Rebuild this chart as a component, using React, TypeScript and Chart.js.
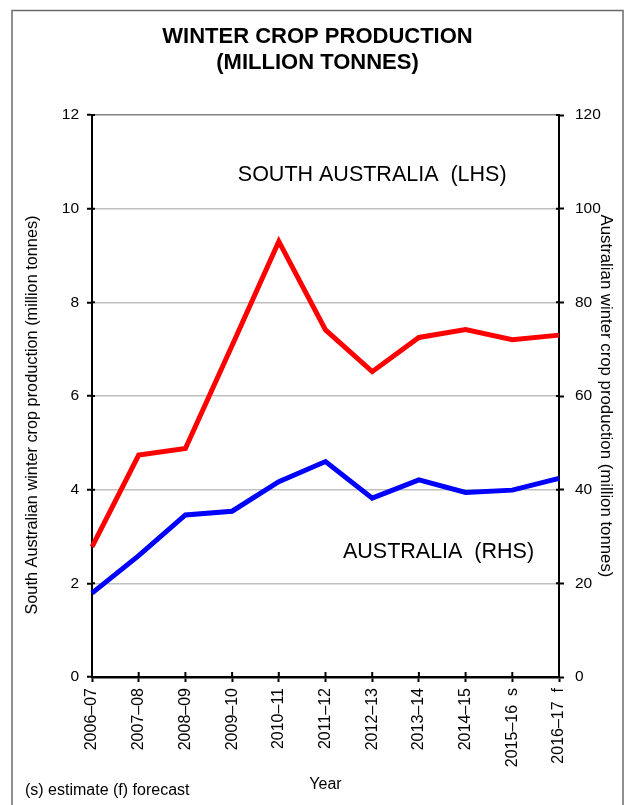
import React, { useEffect, useRef } from "react";
import { Chart, registerables } from "chart.js";

Chart.register(...registerables);

const categories = [
  "2006–07",
  "2007–08",
  "2008–09",
  "2009–10",
  "2010–11",
  "2011–12",
  "2012–13",
  "2013–14",
  "2014–15",
  "2015–16  s",
  "2016–17  f",
];
const southAustralia = [2.78, 4.74, 4.88, 7.08, 9.3, 7.41, 6.52, 7.25, 7.42, 7.2, 7.3];
const australia = [17.9, 25.9, 34.6, 35.4, 41.7, 46.0, 38.2, 42.1, 39.4, 39.9, 42.4];
const leftTicks = [0, 2, 4, 6, 8, 10, 12];
const rightTicks = [0, 20, 40, 60, 80, 100, 120];
const titleLines = ["WINTER CROP PRODUCTION", "(MILLION TONNES)"];
const leftTitle = "South Australian winter crop production (million tonnes)";
const rightTitle = "Australian winter crop production (million tonnes)";
const xTitle = "Year";
const footnote = "(s) estimate (f) forecast";
const saLabel = "SOUTH AUSTRALIA  (LHS)";
const ausLabel = "AUSTRALIA  (RHS)";

const FONT = "'Liberation Sans', Arial, sans-serif";

const extrasPlugin = {
  id: "extras",
  beforeDraw(chart: any) {
    const ctx = chart.ctx;
    ctx.save();
    ctx.fillStyle = "#ffffff";
    ctx.fillRect(0, 0, chart.width, chart.height);
    ctx.strokeStyle = "#6b6b6b";
    ctx.lineWidth = 1.5;
    ctx.strokeRect(12, 10.5, 611, chart.height + 20);
    ctx.restore();
  },
  beforeDatasetsDraw(chart: any) {
    const ctx = chart.ctx;
    const { x, y, y1 } = chart.scales;
    const area = chart.chartArea;
    ctx.save();
    ctx.strokeStyle = "#000";
    ctx.lineWidth = 2;
    ctx.beginPath();
    x.ticks.forEach((_t: any, i: number) => {
      const px = x.getPixelForTick(i);
      ctx.moveTo(px, area.bottom);
      ctx.lineTo(px, area.bottom - 5);
    });
    y.ticks.forEach((_t: any, i: number) => {
      const py = y.getPixelForTick(i);
      ctx.moveTo(area.left, py);
      ctx.lineTo(area.left + 3, py);
    });
    y1.ticks.forEach((_t: any, i: number) => {
      const py = y1.getPixelForTick(i);
      ctx.moveTo(area.right, py);
      ctx.lineTo(area.right - 3, py);
    });
    ctx.stroke();
    ctx.restore();
  },
  afterDraw(chart: any) {
    const ctx = chart.ctx;
    const { x, y, y1 } = chart.scales;
    const area = chart.chartArea;
    ctx.save();
    ctx.fillStyle = "#000";
    ctx.textAlign = "center";
    ctx.textBaseline = "middle";
    ctx.font = `21.5px ${FONT}`;
    ctx.fillText(saLabel, x.getPixelForValue(6), y.getPixelForValue(10.72));
    ctx.fillText(ausLabel, x.getPixelForValue(7.42), y1.getPixelForValue(26.6));
    // left axis title (rotated, reads bottom to top)
    ctx.save();
    ctx.font = `16.3px ${FONT}`;
    ctx.translate(y.left + 21, (area.top + area.bottom) / 2 + 19);
    ctx.rotate(-Math.PI / 2);
    ctx.fillText(leftTitle, 0, 0);
    ctx.restore();
    ctx.font = `16px ${FONT}`;
    ctx.textAlign = "left";
    ctx.fillText(footnote, 25, 791);
    ctx.restore();
  },
};

export default function App() {
  const ref = useRef<HTMLCanvasElement | null>(null);

  useEffect(() => {
    if (!ref.current) return;
    const chart = new Chart(ref.current, {
      type: "line",
      data: {
        labels: categories,
        datasets: [
          {
            label: "Australia (RHS)",
            data: australia,
            yAxisID: "y1",
            borderColor: "#0000ff",
            backgroundColor: "#0000ff",
            borderWidth: 5,
            pointRadius: 0,
            tension: 0,
          },
          {
            label: "South Australia (LHS)",
            data: southAustralia,
            yAxisID: "y",
            borderColor: "#ff0000",
            backgroundColor: "#ff0000",
            borderWidth: 5,
            pointRadius: 0,
            tension: 0,
          },
        ],
      },
      options: {
        animation: false,
        responsive: false,
        devicePixelRatio: 1,
        layout: { padding: { left: 12, right: 4, top: 0, bottom: 0 } },
        plugins: {
          legend: { display: false },
          tooltip: { enabled: false },
          title: {
            display: true,
            text: titleLines,
            color: "#000",
            font: { family: FONT, size: 22, weight: "bold", lineHeight: 26 / 22 },
            padding: { top: 24, bottom: 39 },
          },
        },
        scales: {
          x: {
            type: "category",
            offset: false,
            grid: {
              display: true,
              drawOnChartArea: false,
              tickLength: 5,
              tickColor: "#000",
              tickWidth: 2,
            },
            border: { color: "#000", width: 2.5 },
            ticks: {
              autoSkip: false,
              minRotation: 90,
              maxRotation: 90,
              padding: 6,
              color: "#000",
              font: { family: FONT, size: 16 },
            },
            title: {
              display: true,
              text: xTitle,
              color: "#000",
              font: { family: FONT, size: 16, lineHeight: 1.2 },
              padding: { top: 0, bottom: 11 },
            },
            afterFit(scale: any) {
              scale.height = 128;
            },
          },
          y: {
            type: "linear",
            position: "left",
            min: 0,
            max: 12,
            afterBuildTicks(scale: any) {
              scale.ticks = leftTicks.map((v) => ({ value: v }));
            },
            grid: {
              color: (c: any) => (c.tick && c.tick.value === 12 ? "#808080" : "#c0c0c0"),
              lineWidth: 1.5,
              tickLength: 5,
              tickColor: "#000",
              tickWidth: 2,
            },
            border: { color: "#000", width: 2 },
            ticks: {
              padding: 8,
              color: "#000",
              font: { family: FONT, size: 15.5 },
            },
            title: { display: false },
            afterFit(scale: any) {
              scale.width = 80;
            },
          },
          y1: {
            type: "linear",
            position: "right",
            min: 0,
            max: 120,
            afterBuildTicks(scale: any) {
              scale.ticks = rightTicks.map((v) => ({ value: v }));
            },
            grid: {
              drawOnChartArea: false,
              tickLength: 5,
              tickColor: "#000",
              tickWidth: 2,
            },
            border: { color: "#000", width: 2 },
            ticks: {
              padding: 11,
              color: "#000",
              font: { family: FONT, size: 15.5 },
            },
            title: {
              display: true,
              text: rightTitle,
              color: "#000",
              font: { family: FONT, size: 16.8, lineHeight: 1.2 },
              padding: { top: 7, bottom: 0 },
            },
            afterFit(scale: any) {
              scale.width = 64;
            },
          },
        },
      },
      plugins: [extrasPlugin],
    });
    return () => chart.destroy();
  }, []);

  return (
    <div style={{ position: "absolute", left: 0, top: 0, width: 627, height: 805 }}>
      <canvas ref={ref} width={627} height={805} style={{ display: "block", width: 627, height: 805 }} />
    </div>
  );
}
